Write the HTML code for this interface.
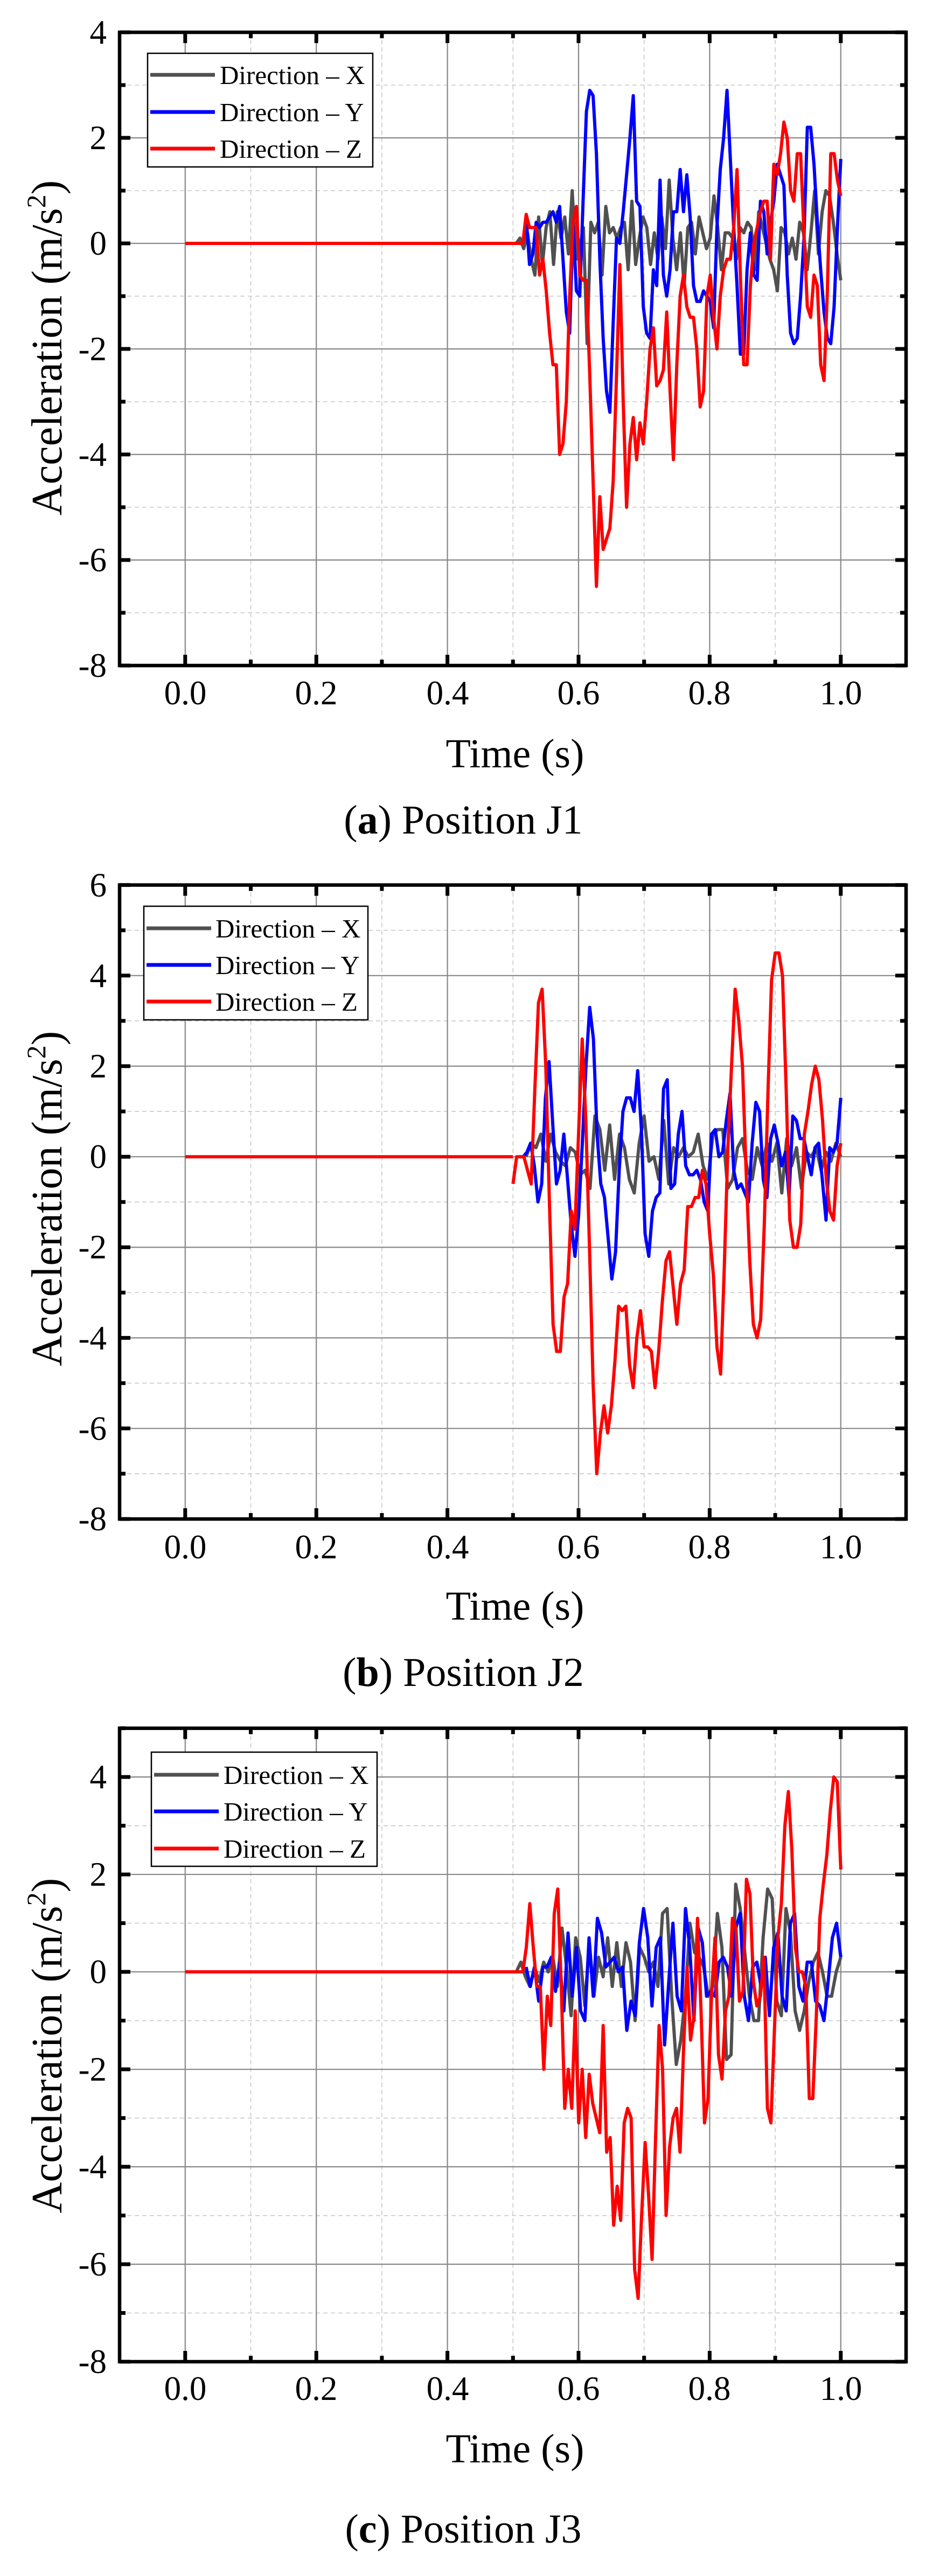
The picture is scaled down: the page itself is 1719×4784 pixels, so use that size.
<!DOCTYPE html>
<html><head><meta charset="utf-8"><style>
html,body{margin:0;padding:0;background:#fff}
svg{display:block}
text{font-family:"Liberation Serif",serif;fill:#000}
</style></head><body>
<svg id="s" xmlns="http://www.w3.org/2000/svg" width="1719" height="4784" viewBox="0 0 1719 4784" font-family="Liberation Serif, serif">
<rect width="1719" height="4784" fill="#fff"/>
<g id="plots"></g>
<!-- Panel a text -->
<g font-size="63" text-anchor="end">
<text x="198" y="81">4</text><text x="198" y="277">2</text><text x="198" y="473">0</text><text x="198" y="669">-2</text><text x="198" y="865">-4</text><text x="198" y="1061">-6</text><text x="198" y="1257">-8</text>
</g>
<g font-size="63" text-anchor="middle">
<text x="344" y="1308">0.0</text><text x="587" y="1308">0.2</text><text x="831" y="1308">0.4</text><text x="1074" y="1308">0.6</text><text x="1317" y="1308">0.8</text><text x="1561" y="1308">1.0</text>
<text x="956" y="1425" font-size="76">Time (s)</text>
<text x="860" y="1548" font-size="76">(<tspan font-weight="bold">a</tspan>) Position J1</text>
<text transform="translate(114,646) rotate(-90)" font-size="80">Acceleration (m/s<tspan font-size="50" dy="-30">2</tspan><tspan dy="30">)</tspan></text>
</g>
<!-- Panel b text -->
<g font-size="63" text-anchor="end">
<text x="198" y="1665">6</text><text x="198" y="1833">4</text><text x="198" y="2001">2</text><text x="198" y="2169">0</text><text x="198" y="2337">-2</text><text x="198" y="2506">-4</text><text x="198" y="2674">-6</text><text x="198" y="2842">-8</text>
</g>
<g font-size="63" text-anchor="middle">
<text x="344" y="2894">0.0</text><text x="587" y="2894">0.2</text><text x="831" y="2894">0.4</text><text x="1074" y="2894">0.6</text><text x="1317" y="2894">0.8</text><text x="1561" y="2894">1.0</text>
<text x="956" y="3008" font-size="76">Time (s)</text>
<text x="860" y="3131" font-size="76">(<tspan font-weight="bold">b</tspan>) Position J2</text>
<text transform="translate(114,2226) rotate(-90)" font-size="80">Acceleration (m/s<tspan font-size="50" dy="-30">2</tspan><tspan dy="30">)</tspan></text>
</g>
<!-- Panel c text -->
<g font-size="63" text-anchor="end">
<text x="198" y="3321">4</text><text x="198" y="3502">2</text><text x="198" y="3683">0</text><text x="198" y="3864">-2</text><text x="198" y="4045">-4</text><text x="198" y="4226">-6</text><text x="198" y="4407">-8</text>
</g>
<g font-size="63" text-anchor="middle">
<text x="344" y="4457">0.0</text><text x="587" y="4457">0.2</text><text x="831" y="4457">0.4</text><text x="1074" y="4457">0.6</text><text x="1317" y="4457">0.8</text><text x="1561" y="4457">1.0</text>
<text x="956" y="4573" font-size="76">Time (s)</text>
<text x="860" y="4722" font-size="76">(<tspan font-weight="bold">c</tspan>) Position J3</text>
<text transform="translate(114,3799) rotate(-90)" font-size="80">Acceleration (m/s<tspan font-size="50" dy="-30">2</tspan><tspan dy="30">)</tspan></text>
</g>
<!-- Legends -->
<g id="legends">
<rect x="274" y="99" width="418" height="211" fill="#fff" stroke="#000" stroke-width="2.5"/>
<line x1="279" y1="139" x2="399" y2="139" stroke="#505050" stroke-width="7"/>
<line x1="279" y1="208" x2="399" y2="208" stroke="#0000ff" stroke-width="7"/>
<line x1="279" y1="276" x2="399" y2="276" stroke="#ff0000" stroke-width="7"/>
<text x="408" y="156" font-size="49">Direction – X</text>
<text x="408" y="225" font-size="49">Direction – Y</text>
<text x="408" y="293" font-size="49">Direction – Z</text>

<rect x="267" y="1683" width="416" height="211" fill="#fff" stroke="#000" stroke-width="2.5"/>
<line x1="272" y1="1724" x2="392" y2="1724" stroke="#505050" stroke-width="7"/>
<line x1="272" y1="1792" x2="392" y2="1792" stroke="#0000ff" stroke-width="7"/>
<line x1="272" y1="1860" x2="392" y2="1860" stroke="#ff0000" stroke-width="7"/>
<text x="400" y="1741" font-size="49">Direction – X</text>
<text x="400" y="1809" font-size="49">Direction – Y</text>
<text x="400" y="1877" font-size="49">Direction – Z</text>

<rect x="281" y="3254" width="419" height="212" fill="#fff" stroke="#000" stroke-width="2.5"/>
<line x1="286" y1="3296" x2="406" y2="3296" stroke="#505050" stroke-width="7"/>
<line x1="286" y1="3364" x2="406" y2="3364" stroke="#0000ff" stroke-width="7"/>
<line x1="286" y1="3433" x2="406" y2="3433" stroke="#ff0000" stroke-width="7"/>
<text x="415" y="3313" font-size="49">Direction – X</text>
<text x="415" y="3381" font-size="49">Direction – Y</text>
<text x="415" y="3450" font-size="49">Direction – Z</text>
</g>
</svg>
<script>
(function(){
var NS="http://www.w3.org/2000/svg";
var plots=document.getElementById('plots');
var legends=document.getElementById('legends');
var svg=document.getElementById('s');
function el(tag,attrs,parent){var e=document.createElementNS(NS,tag);for(var k in attrs)e.setAttribute(k,attrs[k]);(parent||plots).appendChild(e);return e;}
var L=222,R=1682;
function X(t){return 343.8+1217*t;}
var panels=[
 {top:60,bot:1236,ymax:4,ymin:-8,
  X:{t0:0.505,v:[0,0.1,-0.1,0.2,-0.3,-0.6,0.5,-0.4,0.3,0.6,-0.4,0.6,0.1,0.5,-0.2,1.0,-0.3,-0.1,0.3,-1.9,0.4,0.2,0.4,-0.6,0.7,0.2,0.3,0.1,0.3,0.4,-0.5,0.8,-0.4,0.1,0.5,0.3,-0.4,0.2,-0.3,0.5,-0.1,1.2,0.1,-0.5,0.2,-0.8,0.3,0.4,-0.2,0.5,0.2,-0.1,0.1,0.9,0.3,-0.5,0.2,0.2,0.1,-0.3,0.3,0.2,0.4,0.3,-0.5,0.6,0.3,0.0,-0.3,-0.5,-0.9,0.3,0.2,-0.2,0.1,-0.3,0.4,0.2,-0.5,0.2,1.0,-0.2,0.6,1.0,0.9,0.4,-0.2,-0.7]},
  Y:{t0:0.515,v:[0,0.5,-0.4,-0.2,0.4,0.3,0.4,0.4,0.5,0.6,0.4,0.7,-0.3,-1.3,-1.7,0.4,-0.9,-1.0,0.8,2.5,2.9,2.8,1.7,-0.3,-1.8,-2.8,-3.2,-1.5,0.1,0.0,0.6,1.3,2.0,2.8,0.8,0.7,-1.2,-1.7,-1.8,-0.5,-0.8,1.2,-0.6,-1.0,-0.5,0.6,0.6,1.4,0.6,1.3,0.5,-0.8,-1.1,-1.1,-0.9,-1.0,-1.1,-1.6,0.3,1.4,2.0,2.9,1.6,0.3,-0.8,-2.1,-2.1,-0.5,0.2,-0.6,-0.7,0.8,0.6,-0.2,0.4,0.8,1.5,1.3,1.1,-0.6,-1.7,-1.9,-1.8,-1.0,0.1,2.2,2.2,1.5,0.4,-0.5,-1.3,-1.8,-1.9,-1.2,0.3,1.6]},
  Z:{t0:0.515,v:[0,0.55,0.3,0.3,0.3,-0.6,-0.3,-0.9,-1.7,-2.3,-2.3,-4.0,-3.8,-3.0,-1.0,0.4,0.7,-0.6,-0.7,-0.7,-2.5,-4.5,-6.5,-4.8,-5.8,-5.6,-5.4,-4.5,-2.5,-0.4,-3.0,-5.0,-3.8,-3.3,-4.1,-3.4,-3.8,-3.0,-2.0,-1.6,-2.7,-2.6,-2.4,-1.3,-2.8,-4.1,-2.3,-1.0,-0.6,-1.2,-1.4,-1.4,-2.0,-3.1,-2.8,-1.0,-0.6,-1.4,-2.0,-1.0,-0.5,-0.3,-0.3,0.3,1.4,-0.6,-2.3,-2.3,-0.8,0.0,0.3,0.6,0.8,0.8,-0.3,1.5,1.3,1.7,2.3,2.0,1.0,0.8,1.7,1.7,0.2,-1.2,-1.4,-0.6,-0.8,-2.3,-2.6,-0.9,1.7,1.7,1.2,0.9]}},
 {top:1643.6,bot:2821,ymax:6,ymin:-8,
  X:{t0:0.52,v:[0,0.3,0.2,0.5,-0.1,0.5,0.1,-0.1,-0.2,0.2,0.1,-0.4,-0.3,-0.7,0.9,0.6,-0.3,0.7,-0.5,0.5,0.2,-0.5,-0.8,0.3,0.9,-0.1,0.0,-0.5,0.8,-0.6,0.2,0.0,0.2,0.0,0.1,0.5,-0.2,-0.5,0.5,0.6,0.6,-0.7,-0.5,0.2,0.4,-0.3,-0.5,0.2,-0.2,0.3,-0.1,0.3,-0.8,0.4,-0.2,0.2,-0.7,0.1,0.0,0.2,-0.3,0.1,-0.1,0.3,0.0]},
  Y:{t0:0.51,v:[0,0,0.1,0.3,-0.2,-1.0,-0.6,1.3,2.1,0.7,-0.6,-0.3,0.5,-0.5,-1.5,-2.2,-1.3,0.3,2.0,3.3,2.6,0.5,-0.6,-0.9,-1.8,-2.7,-2.1,-0.3,1.0,1.3,1.3,1.0,1.9,0.6,-1.7,-2.2,-1.2,-0.9,-0.8,1.5,1.7,-0.7,-0.6,0.5,1.0,-0.2,-0.4,-0.4,-0.3,-0.5,-1.0,-1.2,0.5,0.6,0.0,0.1,0.8,1.4,-0.3,-0.7,-0.6,-0.8,-1.0,0.3,1.2,1.0,-0.5,-0.9,0.4,0.7,0.3,-0.2,0.1,-0.9,0.9,0.8,0.4,0.4,0.0,-0.4,0.2,0.3,-0.5,-1.4,0.2,0.1,0.3,1.3]},
  Z:{t0:0.5,v:[-0.6,0,0,0,-0.3,-0.6,1.5,3.4,3.7,2.0,-1.0,-3.7,-4.3,-4.3,-3.1,-2.8,-1.2,-1.6,0.5,2.6,0.8,-2.0,-5.0,-7.0,-6.1,-5.5,-6.1,-5.5,-4.5,-3.3,-3.4,-3.3,-4.6,-5.1,-4.0,-3.4,-4.2,-4.2,-4.3,-5.1,-4.3,-3.2,-2.3,-2.1,-2.9,-3.7,-2.8,-2.5,-1.1,-1.1,-0.9,-0.9,-0.3,-0.6,-1.7,-2.6,-4.2,-4.8,-2.5,0.2,2.0,3.7,3.0,2.0,-0.3,-2.3,-3.7,-4.0,-3.6,-1.5,1.4,3.9,4.5,4.5,4.0,1.5,-1.4,-2.0,-2.0,-1.5,0.5,1.0,1.6,2.0,1.7,0.8,-0.5,-1.2,-1.4,-0.2,0.3]}},
 {top:3209.6,bot:4386,ymax:5,ymin:-8,
  X:{t0:0.505,v:[0,0.2,-0.1,-0.3,0.1,-0.2,0.2,0.0,0.3,-0.3,0.9,0.1,-0.9,0.7,0.3,-0.7,0.6,-0.5,0.3,-0.1,0.7,-0.3,0.6,-0.3,0.6,0.2,-1.0,0.5,0.3,0.0,0.2,-0.3,1.2,1.3,-0.5,-1.9,-1.4,-0.5,1.0,0.4,0.3,0.1,-0.5,-0.3,1.2,0.5,-1.8,-1.7,1.8,1.3,0.4,-0.5,-1.0,-1.0,0.7,1.7,1.5,-0.6,-0.9,1.3,0.8,-0.8,-1.2,-0.8,-0.2,0.2,0.4,0.0,-0.5,-0.5,0.0,0.3]},
  Y:{t0:0.52,v:[0.1,-0.3,0.1,-0.6,0.1,0.1,0.3,-0.4,0.2,-0.8,0.8,-0.5,0.5,-0.8,-1.0,0.7,-0.5,1.1,0.8,0.1,0.2,0.3,0.0,0.1,-1.2,-0.6,-0.9,0.6,1.3,0.7,-0.7,0.5,0.7,-1.5,-0.2,1.0,-0.5,-0.8,1.3,0.5,-1.0,0.9,0.6,-0.5,-0.4,-0.5,0.2,0.3,0.1,-0.5,0.9,1.2,-0.5,-1.0,0.1,0.2,-0.3,0.3,-0.9,0.5,0.8,-0.5,-0.8,1.0,1.2,-0.3,-0.6,0.2,0.2,-0.6,-0.7,-1.0,-0.2,0.7,1.0,0.3]},
  Z:{t0:0.515,v:[0,0.5,1.4,0.5,-0.3,-0.3,-2.0,-0.5,-1.1,1.2,1.7,-0.3,-2.8,-2.0,-2.8,-0.8,-3.1,-2.0,-3.4,-2.1,-2.7,-3.0,-3.3,-1.1,-3.7,-3.4,-5.2,-4.4,-5.1,-3.1,-2.8,-3.0,-6.1,-6.7,-5.0,-3.5,-4.6,-5.9,-3.4,-1.1,-2.0,-5.0,-3.6,-3.0,-2.8,-3.7,-1.6,0.1,-1.4,-0.9,1.1,-0.8,-3.1,-2.6,-0.5,0.7,-1.7,-2.2,-0.8,-0.5,1.1,0.9,-0.6,-0.4,1.9,1.6,-0.2,-0.7,-0.5,0.3,-2.8,-3.1,-1.2,0.7,1.4,3.0,3.7,2.5,0.5,0.0,0.0,-0.3,-2.6,-2.6,-0.9,1.1,1.8,2.4,3.3,4.0,3.9,2.1]}}
];
panels.forEach(function(p){
 var k=(p.bot-p.top)/(p.ymax-p.ymin);
 function Y(v){return p.top+(p.ymax-v)*k;}
 for(var i=-1;i<=11;i+=2){var x=X(i/10);if(x>L+3&&x<R-3)el('line',{x1:x,y1:p.top,x2:x,y2:p.bot,stroke:'#c8c8c8','stroke-width':1.6,'stroke-dasharray':'8 6'});}
 for(var v=p.ymin+1;v<p.ymax;v+=2){var y=Y(v);el('line',{x1:L,y1:y,x2:R,y2:y,stroke:'#c8c8c8','stroke-width':1.6,'stroke-dasharray':'8 6'});}
 for(var i=0;i<=10;i+=2){var x=X(i/10);el('line',{x1:x,y1:p.top,x2:x,y2:p.bot,stroke:'#888','stroke-width':2.2});}
 for(var v=p.ymin+2;v<p.ymax;v+=2){var y=Y(v);el('line',{x1:L,y1:y,x2:R,y2:y,stroke:'#888','stroke-width':2.2});}
 function series(s,col){
  var n=s.v.length,dt=(1.0-s.t0)/(n-1),d='';
  for(var j=0;j<n;j++){d+=(j?'L':'M')+X(s.t0+j*dt).toFixed(1)+','+Y(s.v[j]).toFixed(1);}
  el('path',{d:d,fill:'none',stroke:col,'stroke-width':6,'stroke-linejoin':'round'});
 }
 series(p.X,'#505050');series(p.Y,'#0000ff');
 el('line',{x1:X(0),y1:Y(0),x2:X(p.Z.t0),y2:Y(0),stroke:'#ff0000','stroke-width':6});
 series(p.Z,'#ff0000');
 for(var i=-1;i<=11;i++){var x=X(i/10);if(x<L+3||x>R-3)continue;var len=(i%2===0)?20:11;
  el('line',{x1:x,y1:p.bot,x2:x,y2:p.bot-len,stroke:'#000','stroke-width':7});
  el('line',{x1:x,y1:p.top,x2:x,y2:p.top+len,stroke:'#000','stroke-width':7});}
 for(var v=p.ymin;v<=p.ymax;v++){var y=Y(v);var len=((v-p.ymin)%2===0)?20:11;
  el('line',{x1:L,y1:y,x2:L+len,y2:y,stroke:'#000','stroke-width':7});
  el('line',{x1:R,y1:y,x2:R-len,y2:y,stroke:'#000','stroke-width':7});}
 el('rect',{x:L,y:p.top,width:R-L,height:p.bot-p.top,fill:'none',stroke:'#000','stroke-width':6.5});
});
svg.appendChild(legends);
})();
</script>
</body></html>
